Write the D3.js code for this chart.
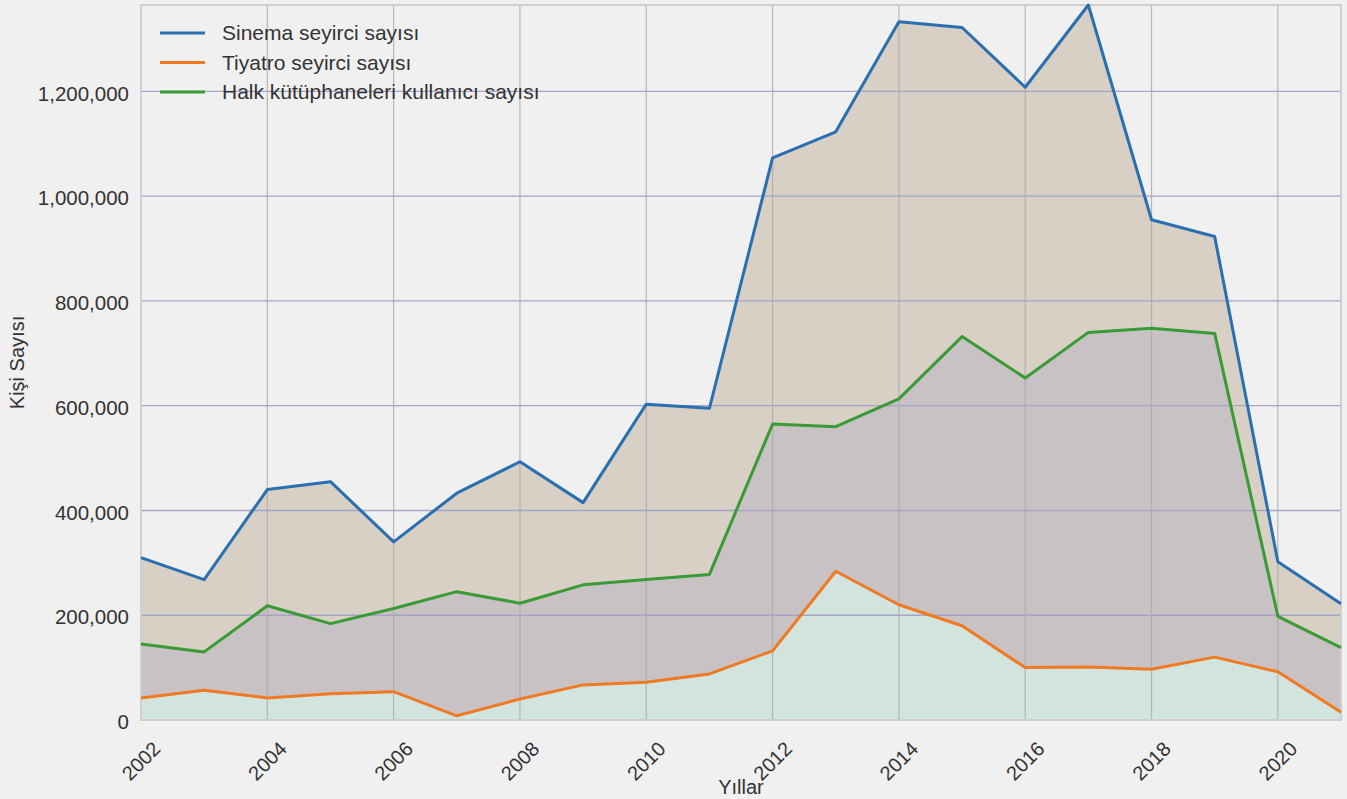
<!DOCTYPE html>
<meta charset="utf-8">
<head>
  <title>Kultur</title>
  <script src="https://cdnjs.cloudflare.com/ajax/libs/d3/7.8.5/d3.min.js"></script>
  <style>
    body { margin: 0; background: #f0f0f0; }
    text { font-family: "Liberation Sans", Arial, sans-serif; fill: #333; }
  </style>
</head>
<body>
<div id="chart"></div>
<script>
  var years = d3.range(2002, 2022)
  var sinema = [310000, 268000, 440000, 455000, 340000, 433000, 493000, 415000, 603000, 595000,
                1073000, 1123000, 1333000, 1322000, 1208000, 1365000, 955000, 923000, 302000, 222000]
  var tiyatro = [42000, 57000, 42000, 50000, 54000, 8000, 40000, 67000, 72000, 88000,
                 132000, 284000, 220000, 180000, 100000, 101000, 97000, 120000, 92000, 15000]
  var halk = [145000, 130000, 218000, 184000, 213000, 245000, 223000, 258000, 268000, 278000,
              565000, 560000, 613000, 732000, 653000, 740000, 748000, 738000, 198000, 138000]
  var yTicks = [0, 200000, 400000, 600000, 800000, 1000000, 1200000]
  var xTicks = d3.range(2002, 2021, 2)

  var series = [
    { name: 'Sinema seyirci sayısı', values: sinema, color: '#2a6fb0', fill: '#d9d0c5' },
    { name: 'Tiyatro seyirci sayısı', values: tiyatro, color: '#f07a24', fill: '#d2e4de' },
    { name: 'Halk kütüphaneleri kullanıcı sayısı', values: halk, color: '#3a9a36', fill: '#c9c2c4' }
  ]

  var WIDTH = 1347, HEIGHT = 799
  var margin = { left: 141, right: 6, top: 5, bottom: 79 }
  var svg = d3.select('#chart').append('svg')
    .attr('width', WIDTH)
    .attr('height', HEIGHT)

  svg.append('rect').attr('width', WIDTH).attr('height', HEIGHT).attr('fill', '#f0f0f0')

  var x = d3.scaleLinear().domain([2002, 2021]).range([margin.left, WIDTH - margin.right])
  var y = d3.scaleLinear().domain([0, d3.max(sinema)]).range([HEIGHT - margin.bottom, margin.top])

  // areas: sinema at the back, then halk, then tiyatro
  var order = [series[0], series[2], series[1]]
  order.forEach(function(s) {
    var area = d3.area()
      .x(function(d, i) { return x(years[i]) })
      .y0(y(0))
      .y1(function(d) { return y(d) })
    svg.append('path')
      .attr('d', area(s.values))
      .attr('fill', s.fill)
  })

  // grid
  svg.append('g').selectAll('line').data(xTicks).enter().append('line')
    .attr('x1', function(d) { return x(d) }).attr('x2', function(d) { return x(d) })
    .attr('y1', margin.top).attr('y2', y(0))
    .attr('stroke', '#a9a9a9').attr('stroke-opacity', 0.8).attr('stroke-width', 1.2)
  svg.append('g').selectAll('line').data(yTicks.slice(1)).enter().append('line')
    .attr('x1', margin.left).attr('x2', WIDTH - margin.right)
    .attr('y1', function(d) { return y(d) }).attr('y2', function(d) { return y(d) })
    .attr('stroke', '#a4a4c6').attr('stroke-width', 1.3)

  // frame
  svg.append('rect')
    .attr('x', margin.left).attr('y', margin.top)
    .attr('width', WIDTH - margin.right - margin.left)
    .attr('height', y(0) - margin.top)
    .attr('fill', 'none').attr('stroke', '#cfcfcf').attr('stroke-width', 2)

  // lines
  series.forEach(function(s) {
    var line = d3.line()
      .x(function(d, i) { return x(years[i]) })
      .y(function(d) { return y(d) })
    svg.append('path')
      .attr('d', line(s.values))
      .attr('fill', 'none')
      .attr('stroke', s.color)
      .attr('stroke-width', 3)
      .attr('stroke-linejoin', 'round')
  })

  // y axis
  var yAxis = d3.axisLeft(y).tickValues(yTicks).tickSize(0).tickPadding(12)
    .tickFormat(d3.format(','))
  var ya = svg.append('g').attr('transform', 'translate(' + margin.left + ',0)').call(yAxis)
  ya.select('.domain').remove()
  ya.selectAll('text').attr('font-size', 20.5).attr('fill', '#333').attr('dy', '0.42em')

  // x axis
  svg.append('g').selectAll('text').data(xTicks).enter().append('text')
    .attr('transform', function(d) { return 'translate(' + x(d) + ',' + 761 + ') rotate(-45)' })
    .attr('text-anchor', 'middle')
    .attr('dy', '0.35em')
    .attr('font-size', 20)
    .text(function(d) { return d })

  svg.append('text')
    .attr('x', (margin.left + WIDTH - margin.right) / 2)
    .attr('y', 794)
    .attr('text-anchor', 'middle')
    .attr('font-size', 20)
    .text('Yıllar')

  svg.append('text')
    .attr('transform', 'translate(24,' + ((margin.top + y(0)) / 2) + ') rotate(-90)')
    .attr('text-anchor', 'middle')
    .attr('font-size', 20)
    .text('Kişi Sayısı')

  // legend
  var legend = svg.append('g').selectAll('g').data(series).enter().append('g')
    .attr('transform', function(d, i) { return 'translate(160,' + (33 + i * 29.5) + ')' })
  legend.append('line')
    .attr('x1', 0).attr('x2', 45)
    .attr('stroke', function(d) { return d.color })
    .attr('stroke-width', 3)
  legend.append('text')
    .attr('x', 62)
    .attr('dy', '0.35em')
    .attr('font-size', 21)
    .text(function(d) { return d.name })
</script>
</body>
